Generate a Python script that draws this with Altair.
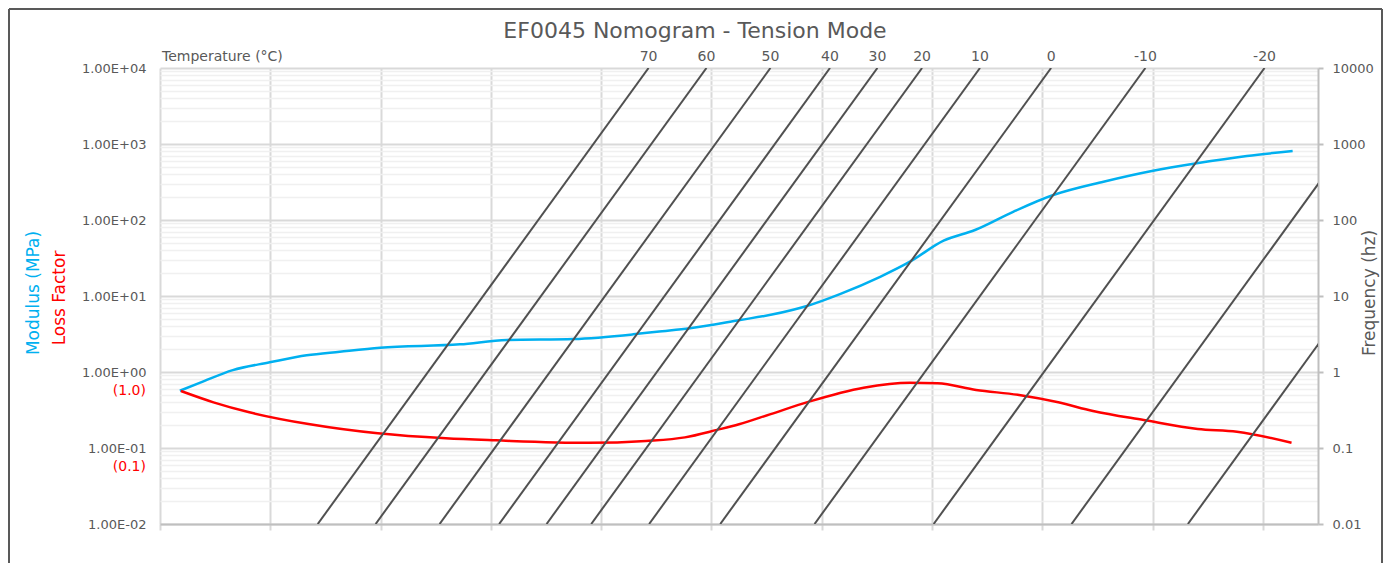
import altair as alt
import pandas as pd
import numpy as np

TITLE = "EF0045 Nomogram - Tension Mode"
TEMP_TITLE = "Temperature (°C)"
LEFT_TITLE_1 = "Modulus (MPa)"
LEFT_TITLE_2 = "Loss Factor"
RIGHT_TITLE = "Frequency (hz)"

# temperature lines: temperature and log10 shift factor (x position at 1 Hz)
temps = [70, 60, 50, 40, 30, 20, 10, 0, -10, -20, -30, -40]
log_aT = [-5.14, -4.09, -2.93, -1.85, -0.99, -0.18, 0.87, 2.16, 3.87, 6.03, 8.53, 10.64]

# modulus curve (x = log10 reduced frequency, y = MPa)
mod_x = [-9.64, -9.27, -8.68, -8.01, -7.34, -6.74, -6.01, -4.56, -3.71, -2.50, -1.42, -0.99,
         -0.39, 0.52, 1.12, 1.73, 2.33, 3.06, 3.60, 4.21, 4.78, 5.48, 6.20, 7.11, 8.01, 8.80,
         9.71, 10.54]
mod_y = [0.567, 0.723, 1.06, 1.34, 1.66, 1.85, 2.09, 2.31, 2.64, 2.72, 3.13, 3.39,
         3.76, 4.83, 5.74, 7.39, 10.6, 17.9, 28.3, 53.4, 73.8, 129, 213, 319, 445, 557,
         695, 809]

# loss factor curve
loss_x = [-9.62, -9.03, -8.38, -7.28, -6.05, -4.82, -3.91, -2.23, -1.19, -0.48, 0.10, 0.50,
          1.06, 1.77, 2.76, 3.60, 4.10, 4.80, 5.58, 6.29, 6.92, 7.84, 8.82, 9.53, 10.52]
loss_y = [0.562, 0.399, 0.295, 0.205, 0.156, 0.134, 0.126, 0.117, 0.124, 0.138, 0.173, 0.205,
          0.277, 0.407, 0.621, 0.723, 0.710, 0.580, 0.498, 0.399, 0.307, 0.233, 0.178, 0.164,
          0.117]

loss_tick_vals = [1.0, 0.1]
loss_tick_text = ["(1.0)", "(0.1)"]

x_grid = list(range(-10, 11, 2))
x_domain = [-10, 11]
decades = [0.01, 0.1, 1, 10, 100, 1000, 10000]
minor_vals = [float(f"{m * d:.6g}") for d in decades[:-1] for m in range(1, 10)] + [10000]
freq_range = [0.01, 10000]

FONT = "DejaVu Sans"
GRAY = "#595959"

mod_df = pd.DataFrame({"x": mod_x, "y": mod_y})
loss_df = pd.DataFrame({"x": loss_x, "y": loss_y})
loss_lbl_df = pd.DataFrame({"y": loss_tick_vals, "label": loss_tick_text})

rows = []
for t, s in zip(temps, log_aT):
    for f in freq_range:
        rows.append({"temp": str(t), "x": s + np.log10(f), "f": f})
lines_df = pd.DataFrame(rows)
lbl_df = pd.DataFrame({"temp": [str(t) for t in temps],
                       "x": [s + np.log10(freq_range[1]) for s in log_aT],
                       "f": [freq_range[1]] * len(temps)})
lbl_df = lbl_df[lbl_df["x"] <= x_domain[1]]

major_test = "abs(log(datum.value)/LN10 - round(log(datum.value)/LN10)) < 0.001"
left_label_expr = ("abs(log(datum.value)/LN10 - round(log(datum.value)/LN10)) < 0.001 ? "
                   "('1.00E' + (round(log(datum.value)/LN10) < 0 ? '-' : '+') + '0' + "
                   "abs(round(log(datum.value)/LN10))) : ''")

X = alt.X("x:Q", scale=alt.Scale(domain=x_domain, nice=False, zero=False),
          axis=alt.Axis(values=x_grid, labels=False, title=None, grid=True,
                        gridColor="#d9d9d9", gridWidth=2, ticks=True, tickSize=6,
                        tickColor="#d9d9d9", tickWidth=2, domainColor="#bfbfbf",
                        domainWidth=2))

YL = alt.Y("y:Q", scale=alt.Scale(type="log", domain=[0.01, 10000], nice=False),
           axis=alt.Axis(values=minor_vals, title=None, grid=True,
                         gridColor={"condition": {"test": major_test, "value": "#d9d9d9"},
                                    "value": "#f0f0f0"},
                         gridWidth={"condition": {"test": major_test, "value": 2},
                                    "value": 1.5},
                         ticks=False, domain=False,
                         labelExpr=left_label_expr, labelFont=FONT, labelFontSize=13,
                         labelColor=GRAY, labelPadding=14, labelOverlap=False))

YR = alt.Y("f:Q", scale=alt.Scale(type="log", domain=[0.01, 10000], nice=False),
           axis=alt.Axis(orient="right", values=decades, format="~g", title=None, grid=False,
                         ticks=True, tickSize=5, tickColor="#bfbfbf", tickWidth=2,
                         domainColor="#bfbfbf", domainWidth=2, labelFont=FONT,
                         labelFontSize=13, labelColor=GRAY, labelPadding=9,
                         labelOverlap=False))

mod = alt.Chart(mod_df).mark_line(color="#00b0f0", strokeWidth=2.5,
                                  interpolate="monotone").encode(x=X, y=YL)
loss = alt.Chart(loss_df).mark_line(color="#ff0000", strokeWidth=2.5,
                                    interpolate="monotone").encode(x=X, y=YL)
loss_lbl = alt.Chart(loss_lbl_df).mark_text(color="#ff0000", align="right", baseline="middle",
                                            dy=19, font=FONT, fontSize=14).encode(
    x=alt.value(-14), y=YL, text="label:N")


def label(text, x, y, size, color=GRAY, angle=0, align="center", baseline="alphabetic"):
    return alt.Chart(pd.DataFrame({"t": [text]})).mark_text(
        font=FONT, fontSize=size, color=color, angle=angle, align=align, baseline=baseline
    ).encode(x=alt.value(x), y=alt.value(y), text="t:N")


title_t = label(TITLE, 535, -30, 22)
temp_t = label(TEMP_TITLE, 2, -7, 14, align="left")
lt1 = label(LEFT_TITLE_1, -126, 225, 17, color="#00b0f0", angle=270, baseline="middle")
lt2 = label(LEFT_TITLE_2, -100, 230, 17, color="#ff0000", angle=270, baseline="middle")
rt = label(RIGHT_TITLE, 1210, 225, 17, angle=270, baseline="middle")

one = pd.DataFrame({"k": [0]})
b_left = alt.Chart(one).mark_rule(color=GRAY, strokeWidth=2).encode(
    x=alt.value(-151), y=alt.value(-59), y2=alt.value(495))
b_top = alt.Chart(one).mark_rule(color=GRAY, strokeWidth=2).encode(
    x=alt.value(-151), x2=alt.value(1222), y=alt.value(-59))
b_right = alt.Chart(one).mark_rule(color=GRAY, strokeWidth=2).encode(
    x=alt.value(1222), y=alt.value(-59), y2=alt.value(495))

layerA = alt.layer(mod, loss, loss_lbl, title_t, temp_t, lt1, lt2, rt, b_left, b_top, b_right)

tlines = alt.Chart(lines_df).mark_line(color="#505050", strokeWidth=2, clip=True).encode(
    x=X, y=YR, detail="temp:N")
tlabels = alt.Chart(lbl_df).mark_text(font=FONT, fontSize=14, color=GRAY, align="center",
                                      baseline="alphabetic", dy=-7).encode(
    x=X, y=YR, text="temp:N")
layerB = alt.layer(tlines, tlabels)

chart = alt.layer(layerA, layerB).resolve_scale(y="independent").properties(
    width=1158, height=456, padding=0, background="white"
).configure_view(strokeWidth=0)

chart.save("out.html", embed_options={"renderer": "svg", "actions": False})
